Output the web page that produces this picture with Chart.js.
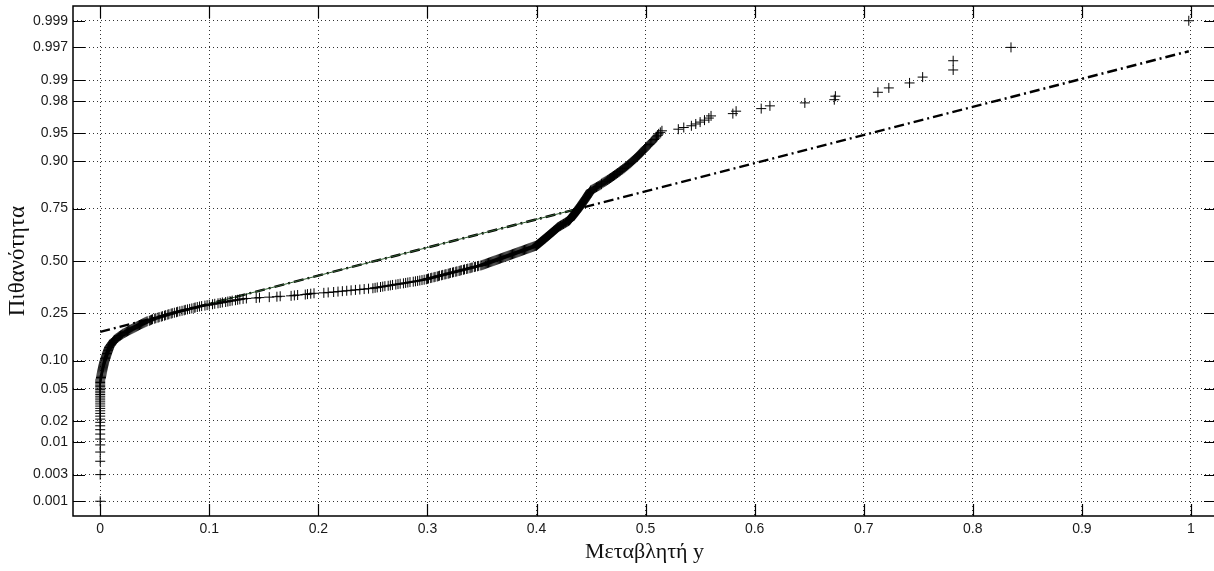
<!DOCTYPE html>
<html>
<head>
<meta charset="utf-8">
<script src="https://cdn.jsdelivr.net/npm/chart.js@4.4.1/dist/chart.umd.min.js"></script>
<style>
  html, body { margin: 0; padding: 0; background: #fff; overflow: hidden; }
  #wrap { width: 1222px; height: 571px; }
</style>
</head>
<body>
<div id="wrap"><canvas id="c" width="1222" height="571"></canvas></div>
<script>
// Sorted sample of the variable y (500 observations), smallest first.
const sampleY = [
  // lowest values, all at zero
  0,0,0,0,0,0,0,0,0,0, 0,0,0,0,0,0,0,0,0,0, 0,0,0,0,0,0,0,0,0,0, 0,0,
  0.0005,0.0007,0.0009,0.0011,0.0013,0.0015,0.0017,0.0019,0.0021,0.0023,0.0025,0.0027,0.0029,0.0031,0.0033,0.0035,0.0037,0.0040,
  0.0043,0.0045,0.0048,0.0050,0.0052,0.0055,0.0057,0.0060,0.0062,0.0065,0.0067,0.0070,0.0072,0.0075,0.0077,0.0080,0.0082,0.0085,
  0.0090,0.0095,0.0099,0.0104,0.0108,0.0113,0.0117,0.0121,0.0126,0.0130,
  0.0138,0.0146,0.0154,0.0162,0.0170,0.0178,0.0186,0.0194,0.0202,0.0210,
  0.022,0.023,0.024,0.025,0.026,0.027,0.028,0.029,0.030,0.031,0.032,0.033,
  0.034,0.035,0.036,0.037,0.038,0.039,0.040,0.041,0.042,0.043,0.045,0.046,
  0.047,0.048,0.050,0.051,0.053,0.054,0.056,0.057,0.059,0.060,0.062,0.063,0.065,
  0.066,0.068,0.070,0.071,0.073,0.075,0.077,0.078,0.080,0.082,0.084,0.086,0.087,0.089,0.091,
  0.093,0.096,0.098,0.100,0.103,0.105,0.108,0.110,0.112,0.115,
  0.117,0.119,0.121,0.124,0.126,0.128,0.131,0.134,
  0.143,0.146,0.155,0.162,0.165,0.175,0.178,0.181,0.188,0.190,0.193,0.196,
  0.205,0.209,0.214,0.218,0.222,0.226,0.230,0.234,0.238,0.242,0.246,0.250,
  0.252,0.254,0.257,0.259,0.261,0.264,0.266,0.268,0.271,0.273,0.275,0.278,0.280,0.282,0.284,0.287,0.289,0.291,0.293,0.295,0.297,0.299,0.300,
  0.301,0.303,0.304,0.306,0.307,0.309,0.310,0.311,0.313,0.314,0.316,0.317,0.319,0.320,0.321,0.323,0.324,0.326,0.327,0.329,
  0.330,0.331,0.333,0.334,0.336,0.337,0.339,0.340,0.341,0.343,0.344,0.346,0.347,0.349,0.350,
  0.351,0.352,0.353,0.354,0.355,0.356,0.357,0.358,0.359,0.360,0.361,0.362,0.363,0.364,0.365,0.366,0.367,0.368,0.369,0.370,
  0.371,0.372,0.373,0.374,0.375,0.376,0.377,0.378,0.379,0.380,0.381,0.382,0.383,0.384,0.385,0.386,0.387,0.388,0.389,0.390,
  0.391,0.392,0.393,0.394,0.395,0.396,0.397,0.398,0.399,0.400,
  0.4004,0.4009,0.4013,0.4018,0.4022,0.4027,0.4031,0.4036,0.4040,0.4044,0.4049,0.4053,0.4058,0.4062,0.4067,
  0.4071,0.4076,0.4080,0.4084,0.4089,0.4093,0.4098,0.4102,0.4107,0.4111,0.4116,0.4120,0.4124,0.4129,0.4133,
  0.4138,0.4142,0.4147,0.4151,0.4156,0.4160,0.4164,0.4169,0.4173,0.4178,0.4182,0.4187,0.4191,0.4196,0.4200,
  0.4207,0.4213,0.4220,0.4227,0.4233,0.4240,0.4247,0.4253,0.4260,0.4267,0.4273,0.4280,0.4287,0.4293,0.4300,
  0.4303,0.4307,0.4310,0.4313,0.4317,0.4320,0.4323,0.4327,0.4330,0.4333,0.4337,0.4340,0.4343,0.4347,0.4350,
  0.4353,0.4357,0.4360,0.4363,0.4367,0.4370,0.4373,0.4377,0.4380,0.4383,0.4387,0.4390,0.4393,0.4396,
  0.4400,0.4403,0.4407,0.4410,0.4413,0.4417,0.4420,0.4423,0.4427,0.4430,0.4433,0.4437,0.4440,0.4443,0.4447,0.4450,
  0.4453,0.4457,0.4460,0.4463,0.4467,0.4470,0.4473,0.4477,0.4480,0.4483,0.4487,0.4490,0.4493,0.4497,0.4500,
  0.451,0.452,0.453,0.454,0.455,0.456,0.457,0.458,0.459,0.4595,0.460,0.461,0.462,0.463,0.464,0.465,
  0.4659,0.4669,0.4678,0.4687,0.4697,0.4706,0.4715,0.4725,0.4734,0.4743,0.4753,0.4762,0.4771,0.4781,0.4790,0.4800,
  0.4809,0.4818,0.4827,0.4836,0.4845,0.4855,
  0.4864,0.4873,0.4882,0.4891,0.4900,0.4909,0.4918,0.4927,0.4936,0.4945,0.4955,0.4964,
  0.4973,0.4982,0.4991,0.5000,0.5011,0.5022,0.5033,0.5044,0.5056,0.5067,0.5078,0.5089,0.5100,
  0.5110,0.5120,0.5135,0.5150,
  // upper tail
  0.530,0.535,0.542,0.546,0.550,0.554,0.558,0.560,0.580,0.583,0.606,0.614,0.646,0.673,0.674,
  0.713,0.723,0.742,0.754,0.782,0.782,0.835,0.998
];

// Probability axis tick labels and x axis ticks
const probTickLabels = ['0.001','0.003','0.01','0.02','0.05','0.10','0.25','0.50','0.75','0.90','0.95','0.98','0.99','0.997','0.999'];
const xTickValues = [0, 0.1, 0.2, 0.3, 0.4, 0.5, 0.6, 0.7, 0.8, 0.9, 1];
const xTickLabels = ['0','0.1','0.2','0.3','0.4','0.5','0.6','0.7','0.8','0.9','1'];

const xLabel = 'Μεταβλητή y';
const yLabel = 'Πιθανότητα';

// Inverse of the standard normal CDF (Acklam's rational approximation)
function probit(p) {
  const a = [-3.969683028665376e+01, 2.209460984245205e+02, -2.759285104469687e+02, 1.383577518672690e+02, -3.066479806614716e+01, 2.506628277459239e+00];
  const b = [-5.447609879822406e+01, 1.615858368580409e+02, -1.556989798598866e+02, 6.680131188771972e+01, -1.328068155288572e+01];
  const c = [-7.784894002430293e-03, -3.223964580411365e-01, -2.400758277161838e+00, -2.549732539343734e+00, 4.374664141464968e+00, 2.938163982698783e+00];
  const d = [7.784695709041462e-03, 3.224671290700398e-01, 2.445134137142996e+00, 3.754408661907416e+00];
  const pl = 0.02425, ph = 1 - pl;
  let q, r;
  if (p < pl) {
    q = Math.sqrt(-2 * Math.log(p));
    return (((((c[0]*q+c[1])*q+c[2])*q+c[3])*q+c[4])*q+c[5]) / ((((d[0]*q+d[1])*q+d[2])*q+d[3])*q+1);
  }
  if (p <= ph) {
    q = p - 0.5; r = q * q;
    return (((((a[0]*r+a[1])*r+a[2])*r+a[3])*r+a[4])*r+a[5])*q / (((((b[0]*r+b[1])*r+b[2])*r+b[3])*r+b[4])*r+1);
  }
  q = Math.sqrt(-2 * Math.log(1 - p));
  return -(((((c[0]*q+c[1])*q+c[2])*q+c[3])*q+c[4])*q+c[5]) / ((((d[0]*q+d[1])*q+d[2])*q+d[3])*q+1);
}

// Normal probability plot positions: rank i -> (i - 0.5) / n on the probit scale
const n = sampleY.length;
const points = sampleY.map((v, i) => ({ x: v, y: probit((i + 0.5) / n) }));

// Percentile with linear interpolation between order statistics
function percentile(sorted, p) {
  const pos = p * sorted.length - 0.5;
  const lo = Math.max(0, Math.floor(pos)), hi = Math.min(sorted.length - 1, lo + 1);
  const t = Math.min(1, Math.max(0, pos - lo));
  return sorted[lo] + t * (sorted[hi] - sorted[lo]);
}

// Reference line through the first and third quartiles
const q1 = percentile(sampleY, 0.25), q3 = percentile(sampleY, 0.75);
const zq1 = probit(0.25), zq3 = probit(0.75);
const slope = (zq3 - zq1) / (q3 - q1);
const lineAt = x => zq1 + slope * (x - q1);
const xMin = sampleY[0], xMax = sampleY[n - 1];

const xPad = 0.025 * (xMax - xMin);
const zLimit = 3.28;

const TICK_FONT = { family: '"Liberation Sans", Arial, sans-serif', size: 14 };
const TITLE_FAMILY = '"Liberation Serif", "Times New Roman", serif';

// Box around the axes with inward tick marks on all four sides
const boxPlugin = {
  id: 'axesBox',
  afterDraw(chart) {
    const { ctx, chartArea: a, scales } = chart;
    const L = 12;
    ctx.save();
    ctx.strokeStyle = '#000';
    ctx.lineWidth = 1.5;
    ctx.beginPath();
    ctx.rect(a.left, a.top, a.right - a.left, a.bottom - a.top);
    ctx.stroke();
    ctx.lineWidth = 1.2;
    ctx.beginPath();
    scales.x.ticks.forEach(t => {
      const px = Math.round(scales.x.getPixelForValue(t.value)) + 0.5;
      ctx.moveTo(px, a.bottom); ctx.lineTo(px, a.bottom - L);
      ctx.moveTo(px, a.top); ctx.lineTo(px, a.top + L);
    });
    scales.y.ticks.forEach(t => {
      const py = Math.round(scales.y.getPixelForValue(t.value)) + 0.5;
      ctx.moveTo(a.left, py); ctx.lineTo(a.left + L, py);
      ctx.moveTo(a.right, py); ctx.lineTo(a.right - L, py);
    });
    ctx.stroke();
    ctx.restore();
  }
};

new Chart(document.getElementById('c'), {
  type: 'scatter',
  data: {
    datasets: [
      {
        type: 'line',
        data: [{ x: xMin, y: lineAt(xMin) }, { x: xMax, y: lineAt(xMax) }],
        borderColor: '#000',
        borderWidth: 2.4,
        borderDash: [10, 4, 2, 4],
        pointRadius: 0,
        fill: false,
        order: 2
      },
      {
        type: 'line',
        data: [{ x: q1, y: zq1 }, { x: q3, y: zq3 }],
        borderColor: '#2e5a2e',
        borderWidth: 1,
        pointRadius: 0,
        fill: false,
        order: 1
      },
      {
        data: points,
        pointStyle: 'cross',
        pointRadius: 5,
        pointBorderWidth: 1,
        borderColor: '#000',
        backgroundColor: '#000',
        order: 0
      }
    ]
  },
  options: {
    responsive: false,
    animation: false,
    events: [],
    layout: { padding: { top: 6, right: 2.7, left: 0, bottom: 0 } },
    plugins: { legend: { display: false }, tooltip: { enabled: false } },
    scales: {
      x: {
        type: 'linear',
        min: xMin - xPad,
        max: xMax + xPad,
        afterBuildTicks: s => { s.ticks = xTickValues.map(v => ({ value: v })); },
        afterFit: s => { s.height = 55; s.paddingLeft = 0; s.paddingRight = 0; },
        ticks: {
          autoSkip: false,
          maxRotation: 0,
          padding: 5,
          color: '#1a1a1a',
          font: TICK_FONT,
          callback: (v, i) => xTickLabels[i]
        },
        grid: {
          drawTicks: false,
          color: '#333',
          lineWidth: 1,
          borderDash: [1, 3]
        },
        border: { display: false, dash: [1, 3] },
        title: {
          display: true,
          text: xLabel,
          color: '#111',
          font: { family: TITLE_FAMILY, size: 22 },
          padding: { top: 0, bottom: 6 }
        }
      },
      y: {
        type: 'linear',
        min: -zLimit,
        max: zLimit,
        afterBuildTicks: s => { s.ticks = probTickLabels.map(l => ({ value: probit(parseFloat(l)) })); },
        afterFit: s => { s.width = 73; s.paddingTop = 0; s.paddingBottom = 0; },
        ticks: {
          autoSkip: false,
          padding: 5,
          color: '#1a1a1a',
          font: TICK_FONT,
          callback: (v, i) => probTickLabels[i]
        },
        grid: {
          drawTicks: false,
          color: '#333',
          lineWidth: 1,
          borderDash: [1, 3]
        },
        border: { display: false, dash: [1, 3] },
        title: {
          display: true,
          text: yLabel,
          color: '#111',
          font: { family: TITLE_FAMILY, size: 23 },
          padding: { top: 4, bottom: 0 }
        }
      }
    }
  },
  plugins: [boxPlugin]
});
</script>
</body>
</html>
